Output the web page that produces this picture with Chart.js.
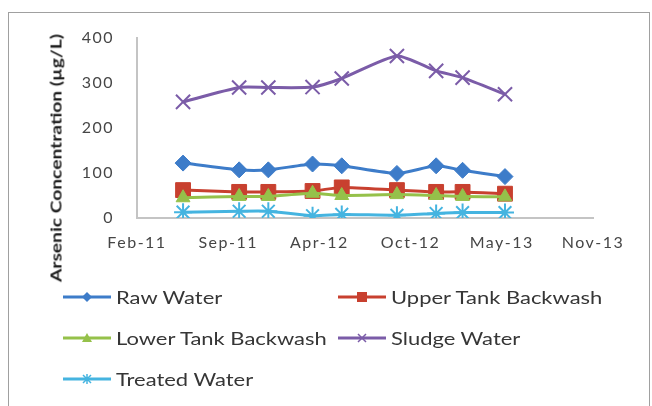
<!DOCTYPE html>
<html>
<head>
<meta charset="utf-8">
<script src="https://cdn.jsdelivr.net/npm/chart.js@4.4.1/dist/chart.umd.min.js"></script>
<style>
  body { margin: 0; background: #fff; }
  #wrap { position: relative; width: 652px; height: 406px; overflow: hidden; font-family: Lato, sans-serif; }
  #frame { position: absolute; left: 8px; top: 12px; width: 642px; height: 430px; border: 1.5px solid #a0a0a0; box-sizing: border-box; }
  #chart { position: absolute; left: 0; top: 0; }
  #ytitle { position: absolute; left: 55px; top: 158px; transform: translate(-50%, -50%) rotate(-90deg) scaleX(1.2);
            white-space: nowrap; font-weight: bold; font-size: 16px; color: #1e1e1e; }
  .leg { position: absolute; display: flex; align-items: center; transform: translateY(-50%);
         font-size: 18px; color: #363636; white-space: nowrap; }
  .leg svg { margin-right: 5px; }
  .leg span { display: inline-block; transform: scaleX(1.22); transform-origin: left center; }
</style>
</head>
<body>
<div id="wrap">
  <div id="frame"></div>
  <canvas id="chart" width="652" height="406"></canvas>
  <div id="ytitle">Arsenic Concentration (µg/L)</div>
  <div id="legend"></div>
</div>
<script>
// sampling dates
const sampleDates = ['2011-06-07', '2011-10-08', '2011-12-11', '2012-03-17', '2012-05-20',
                     '2012-09-18', '2012-12-13', '2013-02-09', '2013-05-13'];

// arsenic concentration, µg/L
const rawWater     = [122, 107, 107, 120, 116, 99, 116, 106, 92];
const upperTank    = [62, 58, 58, 60, 68, 62, 58, 58, 54];
const lowerTank    = [45, 48, 48, 55, 50, 52, 50, 48, 47];
const sludgeWater  = [258, 290, 290, 291, 310, 360, 327, 312, 275];
const treatedWater = [13, 15, 15, 5, 8, 6, 10, 12, 12];

const seriesNames = ['Raw Water', 'Upper Tank Backwash', 'Lower Tank Backwash', 'Sludge Water', 'Treated Water'];

// date axis bounds (Excel-style serial days) and tick step
const xAxisMin = '2011-02-26';
const xAxisMax = '2013-11-22';
const xStepDays = 200;
const yTicks = [0, 100, 200, 300, 400];

const monthNames = ['Jan', 'Feb', 'Mar', 'Apr', 'May', 'Jun', 'Jul', 'Aug', 'Sep', 'Oct', 'Nov', 'Dec'];

function toSerial(s) {
    let p = s.split('-').map(Number);
    return Date.UTC(p[0], p[1] - 1, p[2]) / 86400000 + 25569;
}

function fmtSerial(v) {
    let d = new Date((v - 25569) * 86400000);
    return monthNames[d.getUTCMonth()] + '-' + String(d.getUTCFullYear()).slice(2);
}

const xs = sampleDates.map(toSerial);
const allSeries = [rawWater, upperTank, lowerTank, sludgeWater, treatedWater];
const colors = ['#3d7cc9', '#c8402f', '#95c14a', '#7b5ca8', '#45b4e0'];
const markers = ['rectRot', 'rect', 'triangle', 'crossRot', 'star'];
const radii = [8, 10.5, 8, 10, 9];

let datasets = allSeries.map((vals, i) => ({
    label: seriesNames[i],
    data: vals.map((y, j) => ({ x: xs[j], y: y })),
    borderColor: colors[i],
    backgroundColor: colors[i],
    borderWidth: 3,
    pointStyle: markers[i],
    pointRadius: radii[i],
    pointBackgroundColor: colors[i],
    pointBorderColor: colors[i],
    pointBorderWidth: (markers[i] === 'crossRot' || markers[i] === 'star') ? 2 : 1,
    tension: 0.2,
    order: allSeries.length - i // later series drawn on top, like Excel
}));

// wider tick text, closer to the stretched Calibri in the original
const tickSpacing = {
    id: 'tickSpacing',
    beforeDraw(c) { c.ctx.letterSpacing = '1.5px'; },
    afterDraw(c) { c.ctx.letterSpacing = '0px'; }
};

let ctx = document.getElementById('chart').getContext('2d');
let chart = new Chart(ctx, {
    type: 'line',
    data: { datasets: datasets },
    plugins: [tickSpacing],
    options: {
        responsive: false,
        animation: false,
        layout: { padding: { left: 0, right: 59, top: 38, bottom: 148 } },
        plugins: { legend: { display: false }, tooltip: { enabled: false } },
        scales: {
            x: {
                type: 'linear',
                min: toSerial(xAxisMin),
                max: toSerial(xAxisMax),
                grid: { display: false, drawTicks: false },
                border: { display: true, color: '#c4c4c4', width: 2 },
                ticks: {
                    stepSize: xStepDays,
                    padding: 15,
                    color: '#464646',
                    font: { family: 'Lato', size: 16 },
                    maxRotation: 0,
                    callback: v => fmtSerial(v)
                },
                afterFit: s => { s.height = 40; }
            },
            y: {
                min: yTicks[0],
                max: yTicks[yTicks.length - 1],
                grid: { display: false, drawTicks: false },
                border: { display: true, color: '#c4c4c4', width: 2 },
                ticks: {
                    stepSize: yTicks[1] - yTicks[0],
                    padding: 23,
                    color: '#464646',
                    font: { family: 'Lato', size: 16 }
                },
                afterFit: s => { s.width = 137; }
            }
        }
    }
});

// Legend in two columns, like the Excel layout
function markerSvg(style, c) {
    let shape = '';
    if (style === 'rectRot') shape = `<polygon points="24,3 29,8 24,13 19,8" fill="${c}"/>`;
    if (style === 'rect') shape = `<rect x="19" y="3" width="10" height="10" fill="${c}"/>`;
    if (style === 'triangle') shape = `<polygon points="24,3 29,12 19,12" fill="${c}"/>`;
    if (style === 'crossRot') shape = `<path d="M20 4 L28 12 M28 4 L20 12" stroke="${c}" stroke-width="1.5"/>`;
    if (style === 'star') shape = `<path d="M20 4 L28 12 M28 4 L20 12 M24 3 L24 13" stroke="${c}" stroke-width="1.5"/>`;
    return `<svg width="48" height="16"><line x1="0" y1="8" x2="48" y2="8" stroke="${c}" stroke-width="3"/>${shape}</svg>`;
}

let legendBox = document.getElementById('legend');
chart.data.datasets.forEach((ds, i) => {
    let el = document.createElement('div');
    el.className = 'leg';
    el.style.left = (i % 2 === 0 ? 63 : 338) + 'px';
    el.style.top = (297 + Math.floor(i / 2) * 41) + 'px';
    el.innerHTML = markerSvg(ds.pointStyle, ds.borderColor) + '<span>' + ds.label + '</span>';
    legendBox.appendChild(el);
});
</script>
</body>
</html>
